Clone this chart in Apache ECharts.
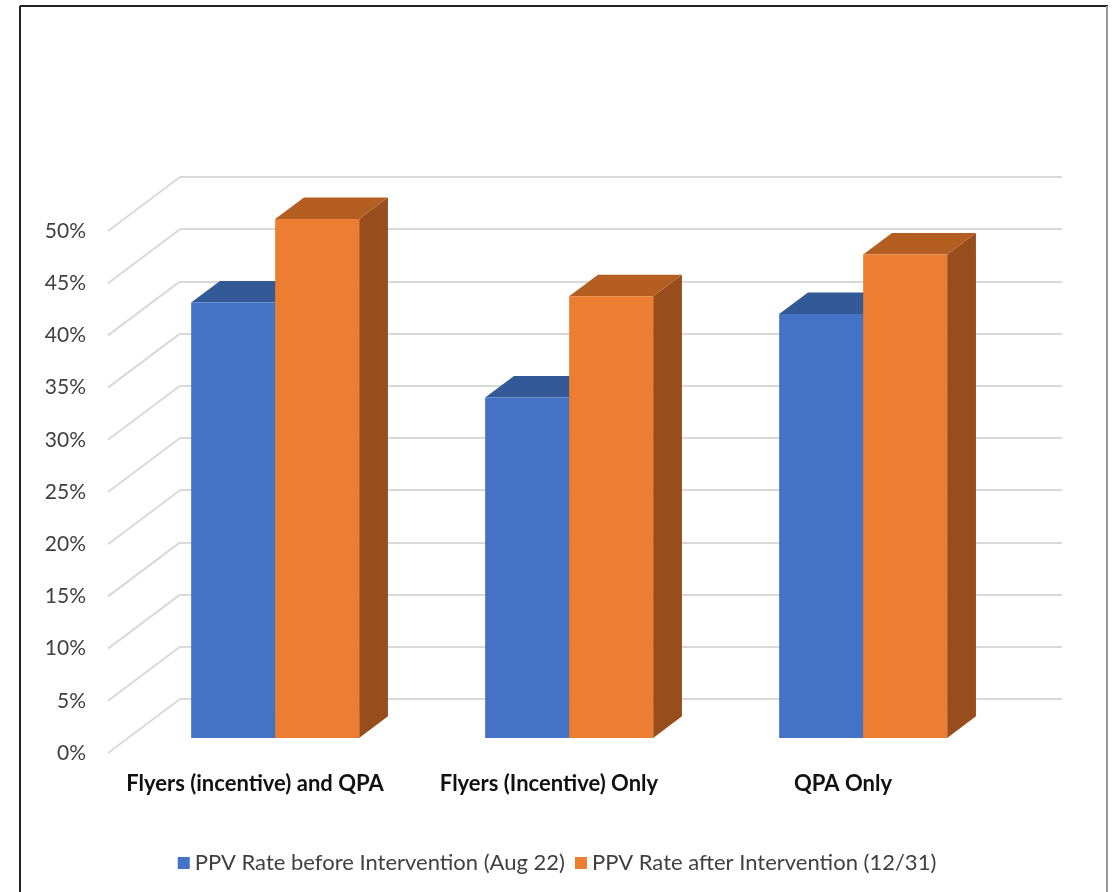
<!DOCTYPE html>
<html>
<head>
<meta charset="utf-8">
<script src="https://cdn.jsdelivr.net/npm/echarts@6/dist/echarts.min.js"></script>
<style>
  html, body { margin: 0; padding: 0; background: #fff; }
  #chart { width: 1114px; height: 892px; }
</style>
</head>
<body>
<div id="chart"></div>
<script>
// 数据
var categories = ['Flyers (incentive) and QPA', 'Flyers (Incentive) Only', 'QPA Only'];
var seriesNames = ['PPV Rate before Intervention (Aug 22)', 'PPV Rate after Intervention (12/31)'];
var beforeValues = [41.7, 32.6, 40.6];
var afterValues = [49.7, 42.3, 46.3];
var tickValues = [0, 5, 10, 15, 20, 25, 30, 35, 40, 45, 50];

// 3D 效果: 背墙到前面的偏移
var DEPTH_X = -72, DEPTH_Y = 54;
var FRONT_D = 0.72, BACK_D = 0.32;   // 柱子前面/后面所在深度
var BAR_RATIO = 84 / 294;            // 柱宽占类目宽

var palette = [
  { front: '#4472C4', top: '#335A96', side: '#2F5597' },
  { front: '#ED7D31', top: '#B55E22', side: '#984E1C' }
];

function barRenderer(idx) {
  return function (params, api) {
    var c = api.value(0), v = api.value(1);
    var base = api.coord([c, 0]);
    var topPt = api.coord([c, v]);
    var bw = api.size([1, 0])[0] * BAR_RATIO;
    var x0 = base[0] - bw + idx * bw;
    var fx = DEPTH_X * FRONT_D, fy = DEPTH_Y * FRONT_D;
    var bx = DEPTH_X * BACK_D, by = DEPTH_Y * BACK_D;
    var col = palette[idx];
    // 前面 / 后面
    var L = x0 + fx, R = x0 + bw + fx, T = topPt[1] + fy, B = base[1] + fy;
    var Lb = x0 + bx, Rb = x0 + bw + bx, Tb = topPt[1] + by, Bb = base[1] + by;
    return {
      type: 'group',
      children: [
        { type: 'polygon', shape: { points: [[R, T], [Rb, Tb], [Rb, Bb], [R, B]] }, style: { fill: col.side } },
        { type: 'polygon', shape: { points: [[L, T], [R, T], [Rb, Tb], [Lb, Tb]] }, style: { fill: col.top } },
        { type: 'rect', shape: { x: L, y: T, width: bw, height: B - T }, style: { fill: col.front } }
      ]
    };
  };
}

var myChart = echarts.init(document.getElementById('chart'));

var option = {
  animation: false,
  backgroundColor: '#fff',
  textStyle: { fontFamily: 'Lato, "Open Sans", sans-serif' },
  grid: [
    // 背墙
    { left: 180, right: 52, top: 177, bottom: 193 },
    // 前面 (只放刻度文字)
    { left: 108, right: 124, top: 231, bottom: 139 }
  ],
  xAxis: [
    { gridIndex: 0, type: 'category', data: categories, show: false },
    {
      gridIndex: 1, type: 'category', data: categories,
      axisLine: { show: false }, axisTick: { show: false },
      axisLabel: { margin: 20, color: '#111', fontSize: 22, fontWeight: 'bold', interval: 0 }
    }
  ],
  yAxis: [
    {
      gridIndex: 0, type: 'value', min: 0, max: 50, interval: 5,
      axisLabel: { show: false }, axisLine: { show: false }, axisTick: { show: false },
      splitLine: { show: true, lineStyle: { color: '#d9d9d9', width: 2 } }
    },
    {
      gridIndex: 1, type: 'value', min: 0, max: 50, interval: 5,
      axisLine: { show: false }, axisTick: { show: false }, splitLine: { show: false },
      axisLabel: { margin: 22, color: '#404040', fontSize: 21, formatter: '{value}%' }
    }
  ],
  legend: {
    data: seriesNames,
    bottom: 13,
    left: 'center',
    icon: 'rect',
    itemWidth: 12,
    itemHeight: 12,
    itemGap: 10,
    itemTextGap: 4,
    textStyle: { fontSize: 22, color: '#404040' }
  },
  graphic: [
    { type: 'line', shape: { x1: 20, y1: 6, x2: 1108, y2: 6 }, style: { stroke: '#222', lineWidth: 2 } },
    { type: 'line', shape: { x1: 20, y1: 6, x2: 20, y2: 892 }, style: { stroke: '#222', lineWidth: 2 } },
    { type: 'line', shape: { x1: 1107, y1: 6, x2: 1107, y2: 892 }, style: { stroke: '#999', lineWidth: 2 } }
  ],
  series: [
    {
      // 左侧斜线
      type: 'custom',
      xAxisIndex: 0, yAxisIndex: 0,
      silent: true,
      clip: false,
      data: tickValues.map(function (t) { return [0, t]; }),
      renderItem: function (params, api) {
        var p = api.coord([0, api.value(1)]);
        var x = params.coordSys.x;
        return {
          type: 'line',
          shape: { x1: x, y1: p[1], x2: x + DEPTH_X, y2: p[1] + DEPTH_Y },
          style: { stroke: '#d9d9d9', lineWidth: 2 }
        };
      },
      z: 1
    },
    {
      name: seriesNames[0],
      type: 'custom',
      xAxisIndex: 0, yAxisIndex: 0,
      clip: false,
      itemStyle: { color: palette[0].front },
      data: beforeValues.map(function (v, i) { return [i, v]; }),
      renderItem: barRenderer(0),
      z: 3
    },
    {
      name: seriesNames[1],
      type: 'custom',
      xAxisIndex: 0, yAxisIndex: 0,
      clip: false,
      itemStyle: { color: palette[1].front },
      data: afterValues.map(function (v, i) { return [i, v]; }),
      renderItem: barRenderer(1),
      z: 4
    }
  ]
};

myChart.setOption(option);
</script>
</body>
</html>
